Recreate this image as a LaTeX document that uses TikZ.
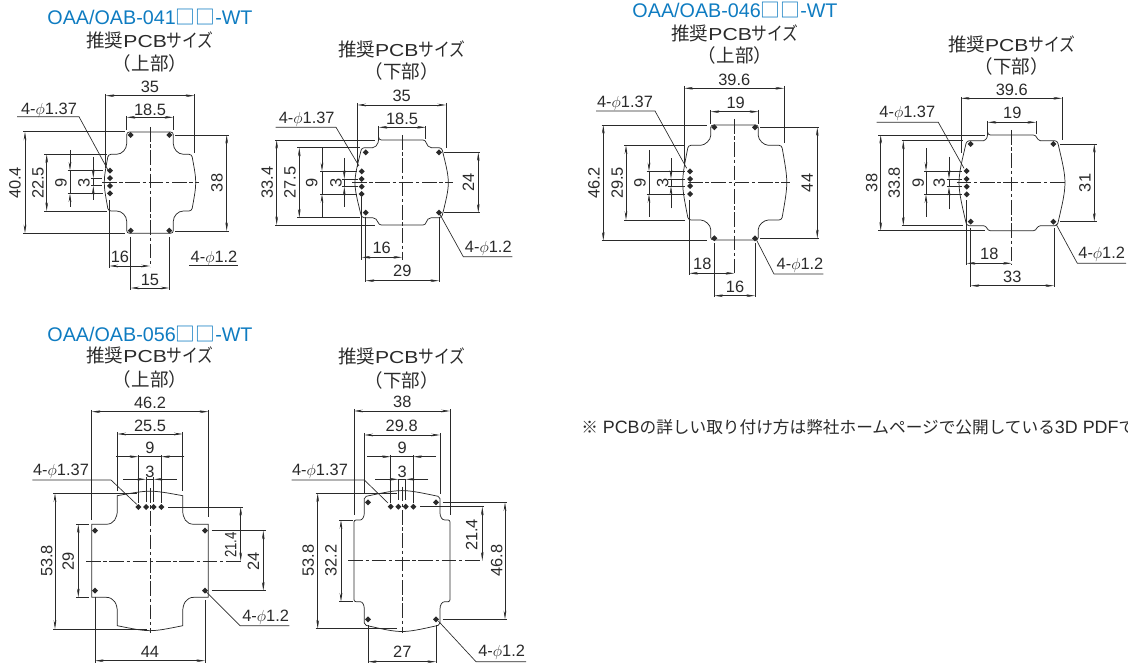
\documentclass[tikz,border=0pt]{standalone}
\usepackage{fontspec}
\setmainfont{Liberation Sans}
\newfontfamily\cjk{Noto Sans CJK JP}
\usetikzlibrary{arrows.meta}
\definecolor{titleblue}{HTML}{0F7CC1}
\definecolor{inkgray}{HTML}{2A2A2A}
\newcommand{\jp}[1]{{\cjk #1}}
\newcommand{\notejp}[1]{{\cjk\fontsize{12.5pt}{15pt}\selectfont #1}}
\newcommand{\pcbhead}{\jp{推奨}{\fontsize{13pt}{14pt}\selectfont\scalebox{1.22}[1]{PCB}}\scalebox{.85}[1]{\jp{サイズ}}}
\newcommand{\phinote}[1]{4-$\phi$#1}
\tikzset{
  ext/.style={draw=inkgray,line width=0.5pt},
  dim/.style={ext,{Stealth[length=6.5pt,width=2pt]}-{Stealth[length=6.5pt,width=2pt]}},
  tip/.style={ext,-{Stealth[length=6.5pt,width=2pt]}},
  board/.style={draw=inkgray,line width=0.55pt},
  center/.style={draw=inkgray,line width=0.5pt,dash pattern=on 11pt off 2pt on 2.5pt off 2pt},
  lab/.style={text=inkgray,inner sep=0pt,font=\fontsize{12.3pt}{14pt}\selectfont},
  vlab/.style={lab,rotate=90},
  head/.style={text=inkgray,inner sep=0pt,font=\fontsize{13.9pt}{15pt}\selectfont},
  model/.style={text=titleblue,inner sep=0pt,font=\fontsize{14.8pt}{16pt}\selectfont},
  notetext/.style={text=inkgray,inner sep=0pt,anchor=west,font=\fontsize{13.4pt}{15pt}\selectfont},
  hole/.style={fill=inkgray,draw=none}
}
\begin{document}
\begin{tikzpicture}[x=0.75pt,y=-0.75pt]
\useasboundingbox (0,0) rectangle (1128,666);
\clip (0,0) rectangle (1128,666);

\node[model] (titlea) at (150,17) {OAA/OAB-041\jp{□□}-WT};
\node[head] (heada) at (150,40) {\pcbhead};
\node[head] (subheada) at (150,63) {\jp{（上部）}};
\draw[board,rounded corners=2pt] (126.7,132) -- (173.3,132) -- (173.3,141) .. controls (173.3,149) and (178,154.3) .. (186,154.3) -- (191.7,154.3) .. controls (196.9,182.5) .. (191.7,211) -- (186,211) .. controls (178,211) and (173.3,216) .. (173.3,224) -- (173.3,233.3) -- (126.7,233.3) -- (126.7,224) .. controls (126.7,216) and (122,211) .. (114,211) -- (108.3,211) .. controls (103.1,182.5) .. (108.3,154.3) -- (114,154.3) .. controls (122,154.3) and (126.7,149) .. (126.7,141) -- cycle;
\foreach \x/\y in {110/170.6,110/178.2,110/185.8,110/193.4,130.7/135,169.3/135,130.7/230.7,169.3/230.7}
  \fill[hole] (\x,\y) +(0,-3) -- +(3,0) -- +(0,3) -- +(-3,0) -- cycle;
\draw[center] (150,127) -- (150,267);
\draw[center] (102,182.3) -- (199,182.3);
\draw[ext] (105.7,94) -- (105.7,168);
\draw[ext] (194.3,94) -- (194.3,153);
\draw[dim] (105.7,95.7) -- (194.3,95.7);
\node[lab] (a35) at (150,87) {35};
\draw[ext] (126.7,116) -- (126.7,130);
\draw[ext] (173.3,116) -- (173.3,130);
\draw[dim] (126.7,117.3) -- (173.3,117.3);
\node[lab] (a185) at (150,110) {18.5};
\draw[ext] (23,131.7) -- (125,131.7);
\draw[ext] (23,233.3) -- (125,233.3);
\draw[dim] (25,131.7) -- (25,233.3);
\node[vlab] (a404) at (15,183) {40.4};
\draw[ext] (44,154.3) -- (107,154.3);
\draw[ext] (44,211) -- (107,211);
\draw[dim] (46.7,154.3) -- (46.7,211);
\node[vlab] (a225) at (38,183) {22.5};
\draw[ext] (67.7,170.6) -- (103,170.6);
\draw[ext] (67.7,193.4) -- (103,193.4);
\draw[ext] (70,170.6) -- (70,193.4);
\draw[tip] (70,150) -- (70,170.6);
\draw[tip] (70,207) -- (70,193.4);
\node[vlab] (a9) at (61,183) {9};
\draw[ext] (91,178.2) -- (102,178.2);
\draw[ext] (91,185.8) -- (102,185.8);
\draw[ext] (93.3,178.2) -- (93.3,185.8);
\draw[tip] (93.3,157) -- (93.3,178.2);
\draw[tip] (93.3,200) -- (93.3,185.8);
\node[vlab] (a3) at (84,183) {3};
\draw[ext] (109.3,200) -- (109.3,268);
\draw[dim] (109.3,266) -- (150,266);
\node[lab] (a16) at (120,257) {16};
\draw[ext] (130.7,237) -- (130.7,290);
\draw[ext] (169.3,237) -- (169.3,290);
\draw[dim] (130.7,288) -- (169.3,288);
\node[lab] (a15) at (150,280) {15};
\draw[ext] (175,135) -- (229,135);
\draw[ext] (175,231) -- (229,231);
\draw[dim] (226.7,135) -- (226.7,231);
\node[vlab] (a38) at (217,183) {38};
\node[lab] (aphia) at (49,110) {\phinote{1.37}};
\draw[ext] (17,116.7) -- (79,116.7) -- (108,170);
\node[lab] (aphib) at (214,258) {\phinote{1.2}};
\draw[ext] (189,265.7) -- (238,265.7);

\node[head] (headb) at (401.7,49.3) {\pcbhead};
\node[head] (subheadb) at (401.7,71.7) {\jp{（下部）}};
\draw[board,rounded corners=2pt] (378.7,140) -- (425.7,140) .. controls (426.5,145) and (429,147.7) .. (434,147.7) -- (441.7,147.7) .. controls (450.3,182.7) .. (441.7,217.7) -- (434,217.7) .. controls (429,217.7) and (426.5,220) .. (425.7,225) -- (378.7,225) .. controls (377.5,220) and (375,217.7) .. (370,217.7) -- (361.7,217.7) .. controls (353,182.7) .. (361.7,147.7) -- (370,147.7) .. controls (375,147.7) and (377.5,145) .. (378.7,140) -- cycle;
\foreach \x/\y in {361.7/171.3,361.7/179,361.7/186.7,361.7/194,365.7/152.3,439/152.3,365.7/212.7,439/212.7}
  \fill[hole] (\x,\y) +(0,-3) -- +(3,0) -- +(0,3) -- +(-3,0) -- cycle;
\draw[center] (402,135) -- (402,260);
\draw[center] (352,182.7) -- (452.7,182.7);
\draw[ext] (357.3,103) -- (357.3,167);
\draw[ext] (446,103) -- (446,148);
\draw[dim] (357.3,105) -- (446,105);
\node[lab] (b35) at (401.7,96) {35};
\draw[ext] (378.7,126) -- (378.7,139);
\draw[ext] (425.7,126) -- (425.7,139);
\draw[dim] (378.7,127.3) -- (425.7,127.3);
\node[lab] (b185) at (402,119) {18.5};
\draw[ext] (275,140) -- (375,140);
\draw[ext] (275,225) -- (375,225);
\draw[dim] (276.7,140) -- (276.7,225);
\node[vlab] (b334) at (267.3,182.7) {33.4};
\draw[ext] (297.3,147.7) -- (360,147.7);
\draw[ext] (297.3,217.7) -- (360,217.7);
\draw[dim] (299.3,147.7) -- (299.3,217.7);
\node[vlab] (b275) at (290,182.7) {27.5};
\draw[ext] (320,171.3) -- (356.7,171.3);
\draw[ext] (320,194) -- (356.7,194);
\draw[ext] (322,171.3) -- (322,194);
\draw[tip] (322,148) -- (322,171.3);
\draw[tip] (322,216.7) -- (322,194);
\node[vlab] (b9) at (311.7,183) {9};
\draw[ext] (341.7,179) -- (358,179);
\draw[ext] (341.7,186.7) -- (358,186.7);
\draw[ext] (344.3,179) -- (344.3,186.7);
\draw[tip] (344.3,158) -- (344.3,179);
\draw[tip] (344.3,206.7) -- (344.3,186.7);
\node[vlab] (b3) at (336,183) {3};
\draw[ext] (361.7,196.7) -- (361.7,260);
\draw[dim] (361.7,257.3) -- (402,257.3);
\node[lab] (b16) at (381.7,248.3) {16};
\draw[ext] (365.7,216.7) -- (365.7,282);
\draw[ext] (439,216.7) -- (439,282);
\draw[dim] (365.7,280.7) -- (439,280.7);
\node[lab] (b29) at (402.3,270.7) {29};
\draw[ext] (444,152.3) -- (480,152.3);
\draw[ext] (444,212.7) -- (480,212.7);
\draw[dim] (478.3,152.3) -- (478.3,212.7);
\node[vlab] (b24) at (468.3,182.7) {24};
\node[lab] (bphia) at (306.7,119.3) {\phinote{1.37}};
\draw[ext] (275.7,127.3) -- (336,127.3) -- (359,166);
\node[lab] (bphib) at (488.3,248.3) {\phinote{1.2}};
\draw[ext] (439.7,214) -- (463.3,256.7) -- (512.3,256.7);

\node[model] (titlec) at (735,10) {OAA/OAB-046\jp{□□}-WT};
\node[head] (headc) at (735,33.3) {\pcbhead};
\node[head] (subheadc) at (735,55) {\jp{（上部）}};
\draw[board,rounded corners=2pt] (710.7,125) -- (758.3,125) -- (758.3,133) .. controls (758.3,140) and (764,145.3) .. (771,145.3) -- (781.7,145.3) .. controls (788.3,182.5) .. (781.7,220) -- (771,220) .. controls (764,220) and (758.3,225) .. (758.3,232) -- (758.3,240) -- (710.7,240) -- (710.7,232) .. controls (710.7,225) and (705,220) .. (698,220) -- (688.3,220) .. controls (681,182.5) .. (688.3,145.3) -- (698,145.3) .. controls (705,145.3) and (710.7,140) .. (710.7,133) -- cycle;
\foreach \x/\y in {690/171.3,690/179,690/186,690/194,714.3/127.3,755/127.3,714.3/238.3,755/238.3}
  \fill[hole] (\x,\y) +(0,-3) -- +(3,0) -- +(0,3) -- +(-3,0) -- cycle;
\draw[center] (734.3,119) -- (734.3,273);
\draw[center] (688,182.3) -- (790,182.3);
\draw[ext] (684.3,86) -- (684.3,165);
\draw[ext] (784,86) -- (784,143);
\draw[dim] (684.3,88.3) -- (784,88.3);
\node[lab] (c396) at (734.3,80) {39.6};
\draw[ext] (710.7,110) -- (710.7,124);
\draw[ext] (758.3,110) -- (758.3,124);
\draw[dim] (710.7,111.7) -- (758.3,111.7);
\node[lab] (c19) at (735.7,102.7) {19};
\draw[ext] (601.7,125) -- (707,125);
\draw[ext] (601.7,240.7) -- (707,240.7);
\draw[dim] (603.3,125) -- (603.3,240.7);
\node[vlab] (c462) at (594,183) {46.2};
\draw[ext] (624,145.3) -- (685,145.3);
\draw[ext] (624,220) -- (685,220);
\draw[dim] (626,145.3) -- (626,220);
\node[vlab] (c295) at (617.3,183) {29.5};
\draw[ext] (646.7,171.3) -- (685,171.3);
\draw[ext] (646.7,194) -- (685,194);
\draw[ext] (649,171.3) -- (649,194);
\draw[tip] (649,150) -- (649,171.3);
\draw[tip] (649,216.7) -- (649,194);
\node[vlab] (c9) at (640,183) {9};
\draw[ext] (668.3,179) -- (685,179);
\draw[ext] (668.3,186) -- (685,186);
\draw[ext] (671,179) -- (671,186);
\draw[tip] (671,158.3) -- (671,179);
\draw[tip] (671,208.3) -- (671,186);
\node[vlab] (c3) at (662.7,183) {3};
\draw[ext] (689.3,200) -- (689.3,275);
\draw[dim] (689.3,273.3) -- (734.3,273.3);
\node[lab] (c18) at (702.3,264.3) {18};
\draw[ext] (714.3,243) -- (714.3,297);
\draw[ext] (755,243) -- (755,297);
\draw[dim] (714.3,295.7) -- (755,295.7);
\node[lab] (c16) at (735,286.7) {16};
\draw[ext] (760,127.3) -- (819.3,127.3);
\draw[ext] (760,238.3) -- (819.3,238.3);
\draw[dim] (817.3,127.3) -- (817.3,238.3);
\node[vlab] (c44) at (807.3,183) {44};
\node[lab] (cphia) at (625,103.3) {\phinote{1.37}};
\draw[ext] (596,111) -- (655,111) -- (686.7,168.3);
\node[lab] (cphib) at (800,265) {\phinote{1.2}};
\draw[ext] (756,239) -- (774,274) -- (823.3,274);

\node[head] (headd) at (1011.7,44) {\pcbhead};
\node[head] (subheadd) at (1011.7,66.7) {\jp{（下部）}};
\draw[board,rounded corners=2pt] (987.7,135) -- (1036,135) .. controls (1037,138.5) and (1039,140.7) .. (1043,140.7) -- (1057.3,140.7) .. controls (1067.3,182.7) .. (1057.3,225.7) -- (1043,225.7) .. controls (1039,225.7) and (1037,227.5) .. (1036,230.7) -- (987.7,230.7) .. controls (986.7,227.5) and (985,225.7) .. (981,225.7) -- (966.7,225.7) .. controls (956.7,182.7) .. (966.7,140.7) -- (981,140.7) .. controls (985,140.7) and (986.7,138.5) .. (987.7,135) -- cycle;
\foreach \x/\y in {966.7/171,966.7/179,966.7/186.7,966.7/194.3,970.7/144,1053.3/144,970.7/221.7,1053.3/221.7}
  \fill[hole] (\x,\y) +(0,-3) -- +(3,0) -- +(0,3) -- +(-3,0) -- cycle;
\draw[center] (1011.7,130) -- (1011.7,265);
\draw[center] (956.7,182.7) -- (1066.7,182.7);
\draw[ext] (961,97) -- (961,153);
\draw[ext] (1062,97) -- (1062,140);
\draw[dim] (961,98.3) -- (1062,98.3);
\node[lab] (d396) at (1011.7,90) {39.6};
\draw[ext] (987.7,121) -- (987.7,134);
\draw[ext] (1036,121) -- (1036,134);
\draw[dim] (987.7,122.3) -- (1036,122.3);
\node[lab] (d19) at (1012.3,113.3) {19};
\draw[ext] (878.3,135) -- (985,135);
\draw[ext] (878.3,230.7) -- (985,230.7);
\draw[dim] (880.7,135) -- (880.7,230.7);
\node[vlab] (d38) at (871.7,183) {38};
\draw[ext] (901.7,140.7) -- (963.3,140.7);
\draw[ext] (901.7,225.7) -- (963.3,225.7);
\draw[dim] (903.3,140.7) -- (903.3,225.7);
\node[vlab] (d338) at (894.3,183) {33.8};
\draw[ext] (924,171) -- (961.7,171);
\draw[ext] (924,194.3) -- (961.7,194.3);
\draw[ext] (926,171) -- (926,194.3);
\draw[tip] (926,148.3) -- (926,171);
\draw[tip] (926,216.7) -- (926,194.3);
\node[vlab] (d9) at (918.3,183) {9};
\draw[ext] (946.7,179) -- (961.7,179);
\draw[ext] (946.7,186.7) -- (961.7,186.7);
\draw[ext] (949,179) -- (949,186.7);
\draw[tip] (949,156.7) -- (949,179);
\draw[tip] (949,209.3) -- (949,186.7);
\node[vlab] (d3) at (939.3,183) {3};
\draw[ext] (966.7,200) -- (966.7,265);
\draw[dim] (966.7,263.3) -- (1011.7,263.3);
\node[lab] (d18) at (989.3,254) {18};
\draw[ext] (970.7,228) -- (970.7,287);
\draw[ext] (1054,228) -- (1054,287);
\draw[dim] (970.7,285.7) -- (1054,285.7);
\node[lab] (d33) at (1012.3,276.7) {33};
\draw[ext] (1060,144) -- (1096.7,144);
\draw[ext] (1060,221.7) -- (1096.7,221.7);
\draw[dim] (1094.3,144) -- (1094.3,221.7);
\node[vlab] (d31) at (1085,183) {31};
\node[lab] (dphia) at (907.3,113.3) {\phinote{1.37}};
\draw[ext] (876.7,122.3) -- (938.3,122.3) -- (964,168.3);
\node[lab] (dphib) at (1101.7,254.3) {\phinote{1.2}};
\draw[ext] (1056,224) -- (1077.3,263.3) -- (1126,263.3);

\node[model] (titlee) at (150,334) {OAA/OAB-056\jp{□□}-WT};
\node[head] (heade) at (150,355.7) {\pcbhead};
\node[head] (subheade) at (150,379.3) {\jp{（上部）}};
\draw[board] (117.3,495.7) .. controls (150,489.7) .. (182.7,495.7) -- (182.7,510) .. controls (182.7,518) and (186,524.3) .. (194,524.3) -- (208.3,524.3) -- (208.3,597.3) -- (194,597.3) .. controls (186,597.3) and (182.7,604) .. (182.7,612) -- (182.7,625.7) .. controls (150,632.3) .. (117.3,625.7) -- (117.3,612) .. controls (117.3,604) and (114,597.3) .. (106,597.3) -- (91.7,597.3) -- (91.7,524.3) -- (106,524.3) .. controls (114,524.3) and (117.3,518) .. (117.3,510) -- cycle;
\foreach \x/\y in {138.3/507,146/507,153.7/507,161.3/507,95/530.7,205/530.7,95/590.7,205/590.7}
  \fill[hole] (\x,\y) +(0,-3) -- +(3,0) -- +(0,3) -- +(-3,0) -- cycle;
\draw[center] (150,488) -- (150,633);
\draw[center] (86,561) -- (241,561);
\draw[ext] (91.7,410) -- (91.7,520);
\draw[ext] (208.3,410) -- (208.3,517);
\draw[dim] (91.7,411.7) -- (208.3,411.7);
\node[lab] (e462) at (150,403.3) {46.2};
\draw[ext] (117.3,432) -- (117.3,491);
\draw[ext] (182.7,432) -- (182.7,491);
\draw[dim] (117.3,434) -- (182.7,434);
\node[lab] (e255) at (150,426) {25.5};
\draw[ext] (138.3,455) -- (138.3,503);
\draw[ext] (161.3,455) -- (161.3,503);
\draw[ext] (138.3,456.7) -- (161.3,456.7);
\draw[tip] (116,456.7) -- (138.3,456.7);
\draw[tip] (184.3,456.7) -- (161.3,456.7);
\node[lab] (e9) at (150,448.3) {9};
\draw[ext] (146,477) -- (146,501.7);
\draw[ext] (153.7,477) -- (153.7,501.7);
\draw[ext] (146,479.3) -- (153.7,479.3);
\draw[tip] (123.3,479.3) -- (146,479.3);
\draw[tip] (176.7,479.3) -- (153.7,479.3);
\node[lab] (e3) at (150,471.7) {3};
\draw[ext] (53.3,493.3) -- (137,493.3);
\draw[ext] (53.3,629) -- (147,629);
\draw[dim] (55,493.3) -- (55,629);
\node[vlab] (e538) at (46.7,561) {53.8};
\draw[ext] (76,524.3) -- (89.3,524.3);
\draw[ext] (76,597.3) -- (89.3,597.3);
\draw[dim] (78.3,524.3) -- (78.3,597.3);
\node[vlab] (e29) at (68.3,561) {29};
\draw[ext] (168.3,507) -- (242.7,507);
\draw[dim] (240.7,507) -- (240.7,561);
\node[vlab] (e214) at (230.7,545) {\scalebox{.8}[1]{21.4}};
\draw[ext] (211.7,530.7) -- (265.7,530.7);
\draw[ext] (211.7,590.7) -- (265.7,590.7);
\draw[dim] (263.3,530.7) -- (263.3,590.7);
\node[vlab] (e24) at (253.3,561) {24};
\draw[ext] (95,596.7) -- (95,663);
\draw[ext] (205,600) -- (205,663);
\draw[dim] (95,660.7) -- (205,660.7);
\node[lab] (e44) at (150,651.7) {44};
\node[lab] (ephia) at (61,471.7) {\phinote{1.37}};
\draw[ext] (32.3,480) -- (111,480) -- (136.7,504.3);
\node[lab] (ephib) at (265.7,617.7) {\phinote{1.2}};
\draw[ext] (206,591.7) -- (240,625.7) -- (289.3,625.7);

\node[head] (headf) at (401.7,356.7) {\pcbhead};
\node[head] (subheadf) at (401.7,380) {\jp{（下部）}};
\draw[board,rounded corners=1.5pt] (364.3,496.7) .. controls (402,488.7) .. (440,496.7) -- (440,511) .. controls (440,516.5) and (442,520) .. (446.7,520) -- (450,520) -- (450,601.7) -- (446.7,601.7) .. controls (442,601.7) and (440,605) .. (440,611) -- (440,625) .. controls (402,633.5) .. (364.3,625) -- (364.3,611) .. controls (364.3,605) and (362.5,601.7) .. (358.3,601.7) -- (354,601.7) -- (354,520) -- (358.3,520) .. controls (362.5,520) and (364.3,516.5) .. (364.3,511) -- cycle;
\foreach \x/\y in {390.7/506.7,398.3/506.7,405.7/506.7,413.3/506.7,368/502.3,436/502.3,368/619.3,436/619.3}
  \fill[hole] (\x,\y) +(0,-3) -- +(3,0) -- +(0,3) -- +(-3,0) -- cycle;
\draw[center] (402.3,486.7) -- (402.3,633);
\draw[center] (348.3,560.7) -- (482.3,560.7);
\draw[ext] (354,409) -- (354,515);
\draw[ext] (450,409) -- (450,515);
\draw[dim] (354,411) -- (450,411);
\node[lab] (f38) at (402.3,402.3) {38};
\draw[ext] (364.3,433) -- (364.3,494);
\draw[ext] (440,433) -- (440,494);
\draw[dim] (364.3,435) -- (440,435);
\node[lab] (f298) at (401.7,426) {29.8};
\draw[ext] (390.7,455) -- (390.7,502.7);
\draw[ext] (413.3,455) -- (413.3,502.7);
\draw[ext] (390.7,456.7) -- (413.3,456.7);
\draw[tip] (367.3,456.7) -- (390.7,456.7);
\draw[tip] (436,456.7) -- (413.3,456.7);
\node[lab] (f9) at (402.3,447.7) {9};
\draw[ext] (398.3,479) -- (398.3,500);
\draw[ext] (405.7,479) -- (405.7,500);
\draw[ext] (398.3,479.3) -- (405.7,479.3);
\draw[tip] (375,479.3) -- (398.3,479.3);
\draw[tip] (428.3,479.3) -- (405.7,479.3);
\node[lab] (f3) at (402.3,471.7) {3};
\draw[ext] (315.7,493.3) -- (396.7,493.3);
\draw[ext] (315.7,628.7) -- (396.7,628.7);
\draw[dim] (317.7,493.3) -- (317.7,628.7);
\node[vlab] (f538) at (308.3,560.7) {53.8};
\draw[ext] (339,520) -- (352.7,520);
\draw[ext] (339,601.7) -- (352.7,601.7);
\draw[dim] (341,520) -- (341,601.7);
\node[vlab] (f322) at (331,560.7) {32.2};
\draw[ext] (420,506.7) -- (484.3,506.7);
\draw[dim] (482.3,506.7) -- (482.3,560.7);
\node[vlab] (f214) at (471.7,535) {21.4};
\draw[ext] (442.7,502.3) -- (507.3,502.3);
\draw[ext] (442.7,619.3) -- (507.3,619.3);
\draw[dim] (505,502.3) -- (505,619.3);
\node[vlab] (f468) at (496.7,560.7) {46.8};
\draw[ext] (368,625) -- (368,663);
\draw[ext] (436,625) -- (436,663);
\draw[dim] (368,661.7) -- (436,661.7);
\node[lab] (f27) at (402.3,651.7) {27};
\node[lab] (fphia) at (320,471.7) {\phinote{1.37}};
\draw[ext] (291.7,480) -- (364.3,480) -- (388,503);
\node[lab] (fphib) at (501.7,652.7) {\phinote{1.2}};
\draw[ext] (438.3,621) -- (476,661.7) -- (526,661.7);

\node[notetext] (note) at (581,427) {\notejp{※} PCB\notejp{の詳しい取り付け方は弊社ホームページで公開している}3D PDF\notejp{で}};
\end{tikzpicture}
\end{document}
